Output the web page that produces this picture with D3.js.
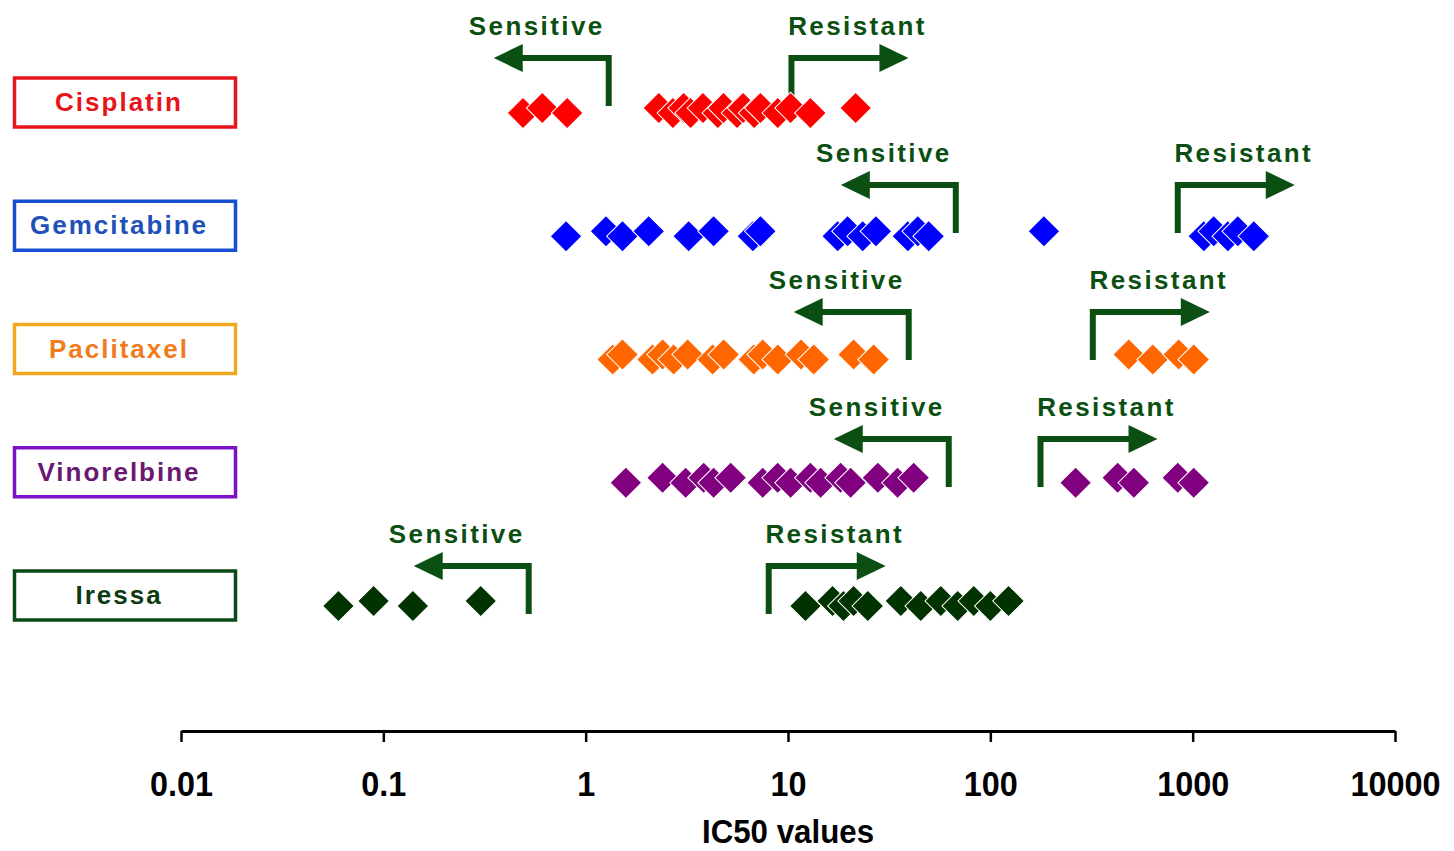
<!DOCTYPE html>
<html>
<head>
<meta charset="utf-8">
<script src="https://cdn.jsdelivr.net/npm/d3@7"></script>
<style>
  body { margin: 0; background: #fff; }
  text { font-family: "Liberation Sans", Arial, sans-serif; font-weight: bold; }
</style>
</head>
<body>
<div id="chart"></div>
<script>
var width = 1454, height = 851;

// drugs, row order top to bottom
var drugs = ["Cisplatin", "Gemcitabine", "Paclitaxel", "Vinorelbine", "Iressa"];

// IC50 values
var cisplatin = [0.49, 0.61, 0.81, 2.3, 2.7, 3.05, 3.3, 3.8, 4.5, 4.8, 5.6, 6.0, 6.8, 7.3, 8.9, 10.3, 12.9, 21.6];
var gemcitabine = [0.80, 1.26, 1.52, 2.05, 3.23, 4.29, 6.7, 7.3, 17.6, 19.7, 23.4, 27.2, 39.1, 43.8, 49.6, 184, 1135, 1271, 1492, 1671, 2005];
var paclitaxel = [1.36, 1.52, 2.14, 2.40, 2.72, 3.19, 4.24, 4.81, 6.77, 7.50, 8.9, 11.6, 13.4, 21.1, 26.5, 483, 635, 853, 1012];
var vinorelbine = [1.58, 2.40, 3.12, 3.83, 4.29, 5.21, 7.50, 8.89, 10.3, 12.9, 14.5, 18.2, 20.4, 27.8, 34.8, 41.8, 264, 426, 512, 844, 1012];
var iressa = [0.060, 0.0895, 0.140, 0.303, 12.2, 16.6, 18.8, 21.1, 24.8, 36.1, 45.3, 56.9, 69.0, 82.8, 100, 123];

// sensitive / resistant cut-offs per drug
var sensCut = [1.30, 67.5, 39.5, 62.3, 0.523];
var resCut = [10.4, 844, 321, 177, 8.03];

var tickValues = [0.01, 0.1, 1, 10, 100, 1000, 10000];
var tickLabels = ["0.01", "0.1", "1", "10", "100", "1000", "10000"];

var dotColors = ["#ff0000", "#0000ff", "#ff6600", "#800080", "#003300"];
var boxColors = ["#e8141c", "#1550d0", "#f0a820", "#7a10c8", "#0a4a14"];
var textColors = ["#e8141c", "#2050b8", "#f07c20", "#6a1870", "#0d3a10"];
var arrowColor = "#0b5012";

var values = [cisplatin, gemcitabine, paclitaxel, vinorelbine, iressa];

var svg = d3.select("#chart").append("svg")
    .attr("width", width)
    .attr("height", height);

var x = d3.scaleLog().domain([0.01, 10000]).range([181, 1395]);
var y = d3.scalePoint().domain(drugs).range([111, 604]);
// row of the arrow bars
var yArrow = d3.scalePoint().domain(drugs).range([58, 566]);

// drug label boxes
var labels = svg.append("g").selectAll("g")
    .data(drugs)
    .join("g")
    .attr("transform", function (d) { return "translate(0," + (y(d) - 9) + ")"; });

labels.append("rect")
    .attr("x", 14.5)
    .attr("y", -24)
    .attr("width", 221)
    .attr("height", 49)
    .attr("fill", "none")
    .attr("stroke", function (d, i) { return boxColors[i]; })
    .attr("stroke-width", 3.5);

labels.append("text")
    .attr("x", 119)
    .attr("y", 9)
    .attr("text-anchor", "middle")
    .attr("font-size", 26)
    .attr("letter-spacing", 2)
    .attr("fill", function (d, i) { return textColors[i]; })
    .text(function (d) { return d; });

// sensitive / resistant arrows
var arrows = svg.append("g");
drugs.forEach(function (d, i) {
  var yh = yArrow(d), yb = yh + 48;
  var xs = x(sensCut[i]), xr = x(resCut[i]);

  arrows.append("path")
      .attr("d", "M" + xs + "," + yb + "V" + yh + "H" + (xs - 88))
      .attr("fill", "none")
      .attr("stroke", arrowColor)
      .attr("stroke-width", 6);
  arrows.append("path")
      .attr("d", "M" + (xs - 115) + "," + yh + "L" + (xs - 86) + "," + (yh - 14) + "L" + (xs - 86) + "," + (yh + 14) + "Z")
      .attr("fill", arrowColor);
  arrows.append("text")
      .attr("x", xs - 72)
      .attr("y", yh - 23)
      .attr("text-anchor", "middle")
      .attr("font-size", 26)
      .attr("letter-spacing", 2.4)
      .attr("fill", arrowColor)
      .text("Sensitive");

  arrows.append("path")
      .attr("d", "M" + xr + "," + yb + "V" + yh + "H" + (xr + 90))
      .attr("fill", "none")
      .attr("stroke", arrowColor)
      .attr("stroke-width", 6);
  arrows.append("path")
      .attr("d", "M" + (xr + 117) + "," + yh + "L" + (xr + 88) + "," + (yh - 14) + "L" + (xr + 88) + "," + (yh + 14) + "Z")
      .attr("fill", arrowColor);
  arrows.append("text")
      .attr("x", xr + 66)
      .attr("y", yh - 23)
      .attr("text-anchor", "middle")
      .attr("font-size", 26)
      .attr("letter-spacing", 2.4)
      .attr("fill", arrowColor)
      .text("Resistant");
});

// diamonds
var diamond = d3.symbol().type(d3.symbolSquare).size(500);
drugs.forEach(function (d, i) {
  svg.append("g").selectAll("path")
      .data(values[i])
      .join("path")
      .attr("d", diamond)
      .attr("transform", function (v, j) {
        return "translate(" + x(v) + "," + (y(d) + (j % 2 ? -3 : 2)) + ") rotate(45)";
      })
      .attr("fill", dotColors[i])
      .attr("stroke", "#fff")
      .attr("stroke-width", 1);
});

// x axis
var axis = svg.append("g")
    .attr("transform", "translate(0,731)")
    .call(d3.axisBottom(x)
      .tickValues(tickValues)
      .tickFormat(function (d, i) { return tickLabels[i]; })
      .tickSize(11)
      .tickSizeOuter(0)
      .tickPadding(28));

axis.select(".domain").attr("stroke", "#000").attr("stroke-width", 3);
axis.selectAll(".tick line").attr("stroke", "#000").attr("stroke-width", 2.5);
axis.selectAll(".tick text")
    .attr("font-size", 36)
    .attr("font-family", "'Liberation Sans', Arial, sans-serif")
    .attr("font-weight", "bold")
    .attr("fill", "#000")
    .attr("transform", "scale(0.9,1)");

svg.append("text")
    .attr("transform", "translate(788,843) scale(0.92,1)")
    .attr("text-anchor", "middle")
    .attr("font-size", 34)
    .attr("fill", "#000")
    .text("IC50 values");
</script>
</body>
</html>
